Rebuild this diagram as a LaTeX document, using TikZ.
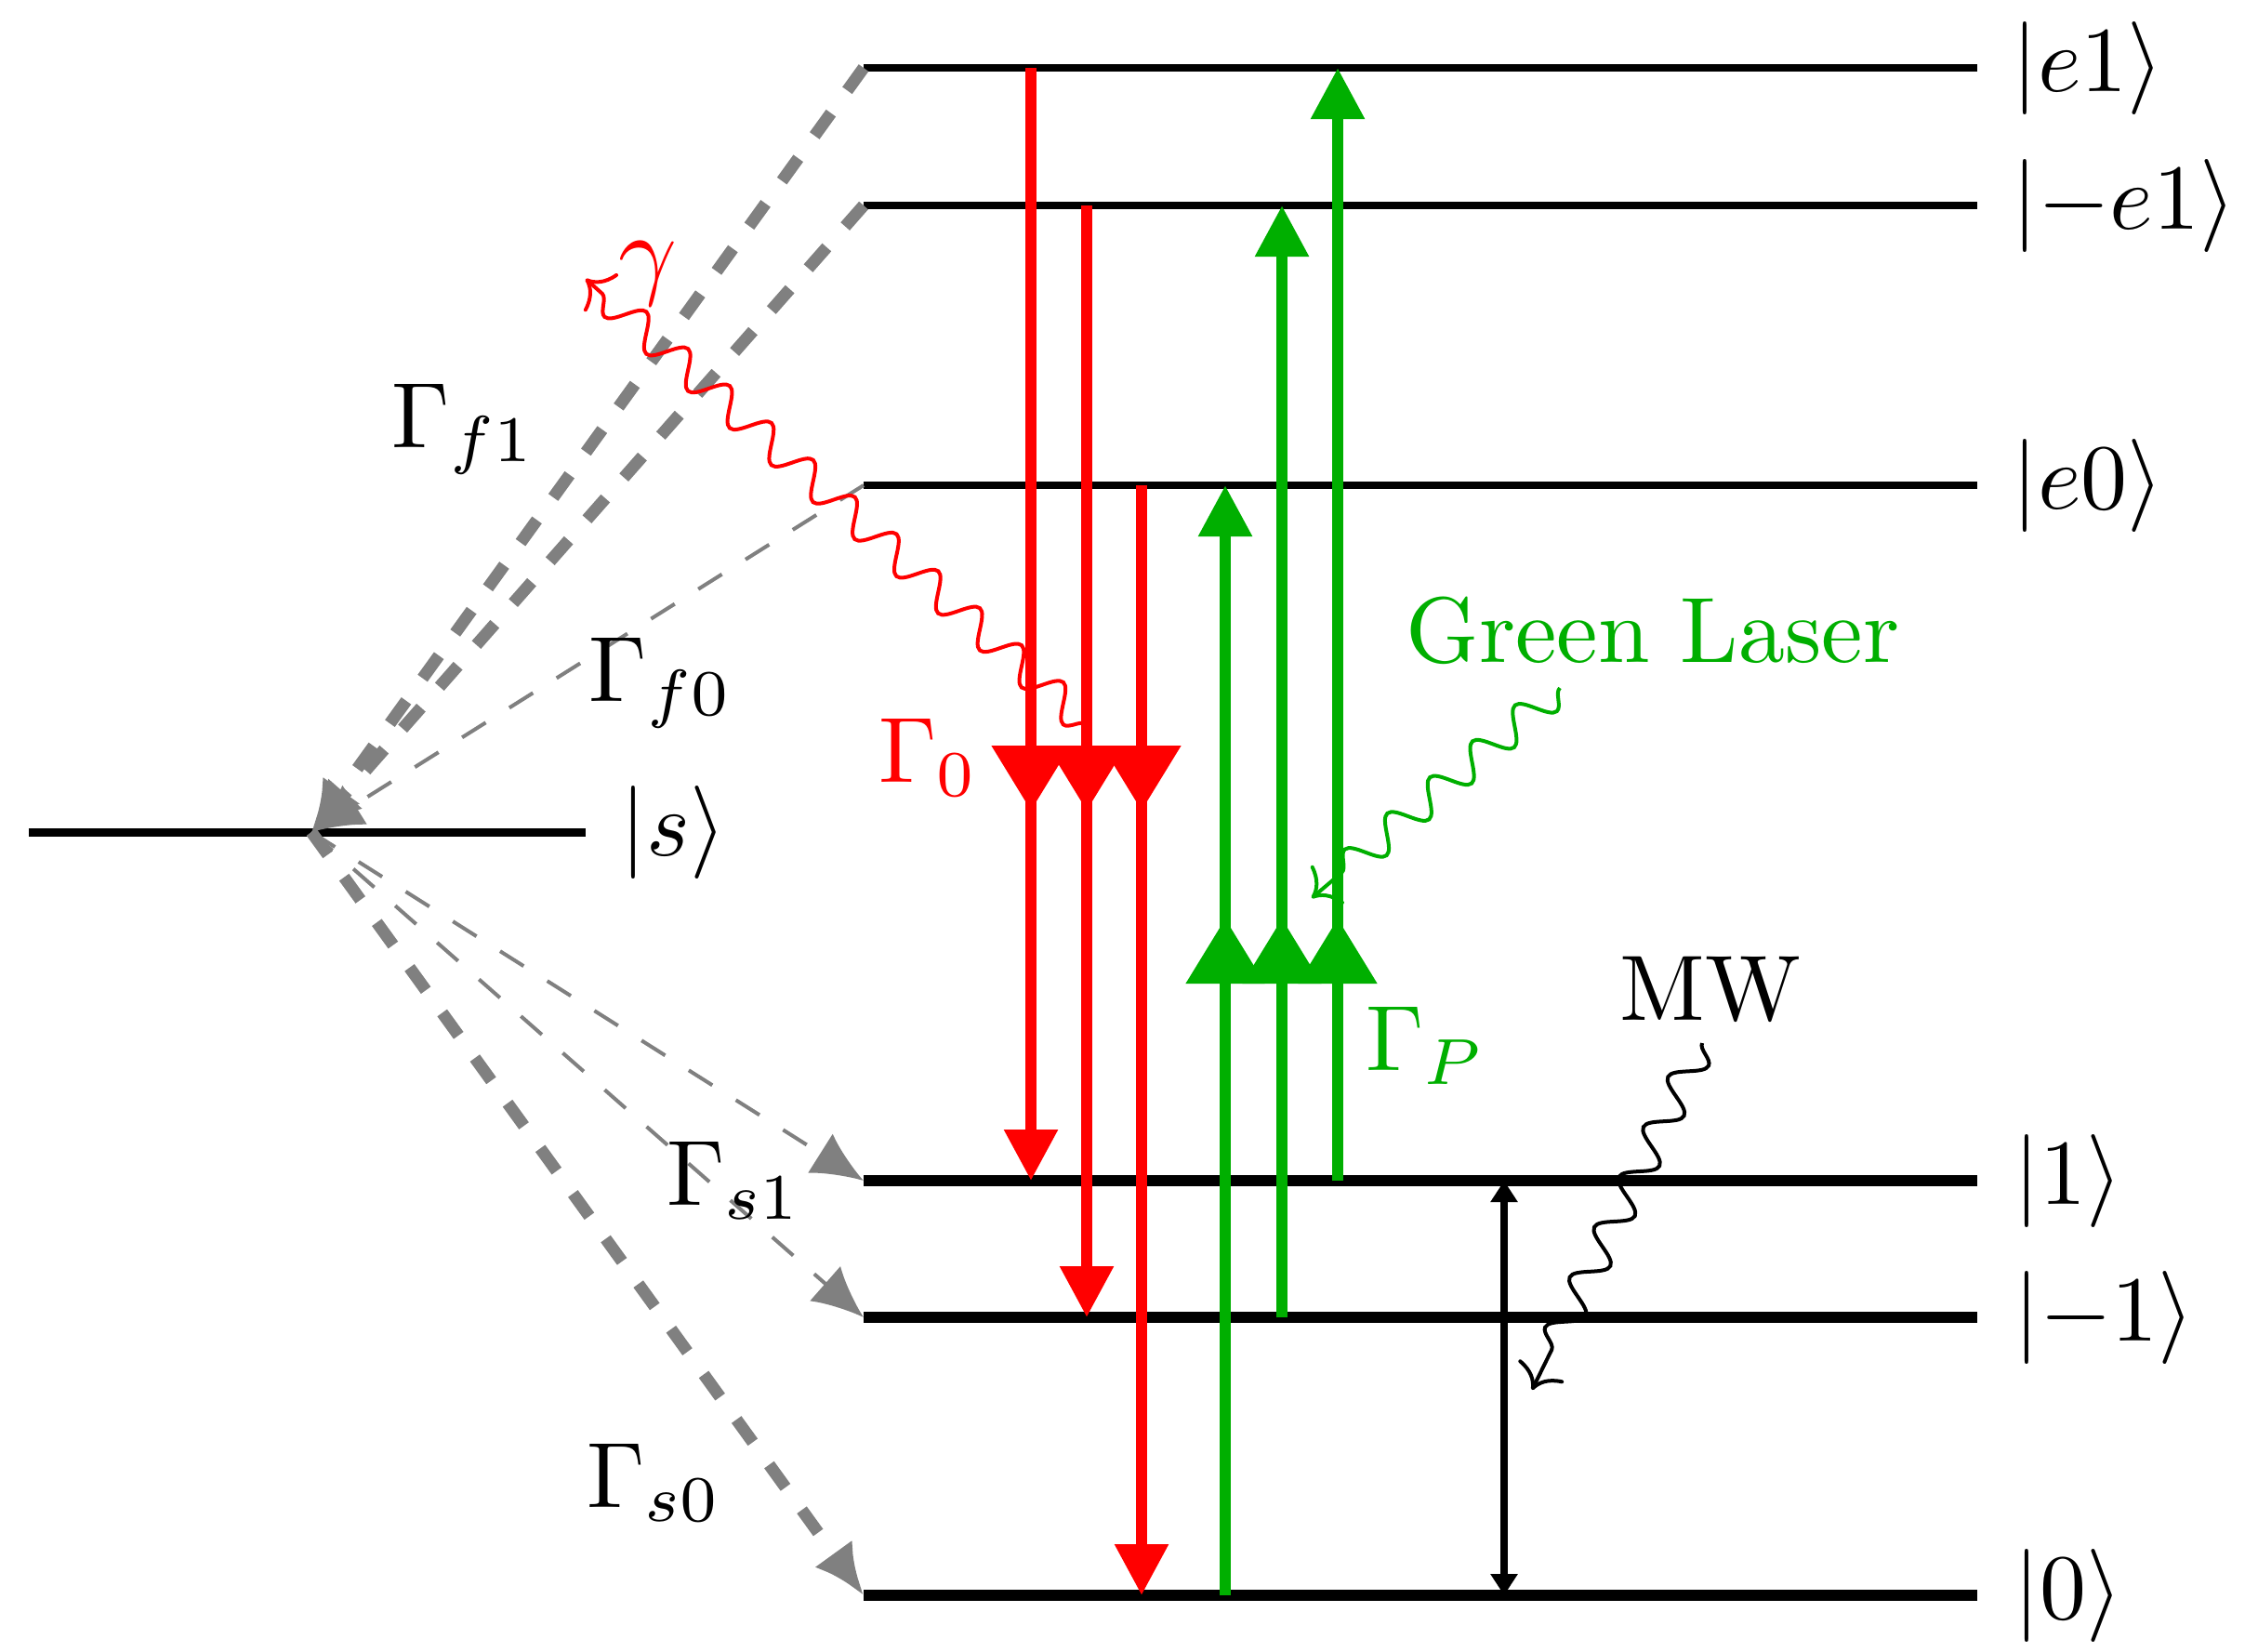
\documentclass[tikz,border=0pt]{standalone}
\usepackage{amsmath}
\usepackage{xcolor}
\definecolor{laser}{RGB}{0,175,0}
\usepackage{tikz}
\usetikzlibrary{arrows.meta,decorations.pathmorphing}
\tikzset{
  >={Triangle[length=5.5pt,width=5.5pt]},
  lvl/.style={draw=black,line width=0.8pt},
  lvlg/.style={lvl,line width=1.2pt},
  decay/.style={->,draw=red,line width=1.2pt},
  pump/.style={->,draw=laser,line width=1.2pt},
  bigtip/.style={-{Triangle[length=7pt,width=8.2pt]}},
  isc/.style={draw=gray,dashed,-{Latex[length=5.5pt,width=5pt]}},
  iscb/.style={isc,line width=1.3pt},
  photon/.style={decorate,decoration={snake,segment length=6pt,amplitude=1.7pt,post length=2pt},
    -{To[length=2.4pt,width=5.4pt]}},
  split/.style={{Triangle[length=2.3pt,width=2.8pt]}-{Triangle[length=2.3pt,width=2.8pt]},line width=0.8pt},
  ket/.style={right},
}

\begin{document}
\begin{tikzpicture}[x=10pt,y=10pt]
  \useasboundingbox (0,0) rectangle (24.29,17.76);
  % levels
  \coordinate (e1) at (9.29,17.03);
  \coordinate (me1) at (9.29,15.55);
  \coordinate (e0) at (9.29,12.54);
  \coordinate (s) at (3.35,8.81);
  \coordinate (g1) at (9.29,5.06);
  \coordinate (gm1) at (9.29,3.59);
  \coordinate (g0) at (9.29,0.60);
  \draw[lvl] (e1) -- ++(11.98,0) node[ket] (ke1) {$|e1\rangle$};
  \draw[lvl] (me1) -- ++(11.98,0) node[ket] (kme1) {$|{-}e1\rangle$};
  \draw[lvl] (e0) -- ++(11.98,0) node[ket] (ke0) {$|e0\rangle$};
  \draw[lvl,line width=0.9pt] (0.31,8.81) -- (6.30,8.81) node[ket] (ks) {$|s\rangle$};
  \draw[lvlg] (g1) -- ++(11.98,0) node[ket] (kg1) {$|1\rangle$};
  \draw[lvlg] (gm1) -- ++(11.98,0) node[ket] (kgm1) {$|{-}1\rangle$};
  \draw[lvlg] (g0) -- ++(11.98,0) node[ket] (kg0) {$|0\rangle$};
  % intersystem crossing
  \draw[iscb] (e1) -- (s);
  \draw[iscb] (me1) -- (s);
  \draw[isc] (e0) -- (s);
  \draw[isc] (s) -- (g1);
  \draw[isc] (s) -- (gm1);
  \draw[iscb] (s) -- (g0);
  % red decay and green pumping
  \coordinate (r1) at (11.09,9.04);
  \coordinate (r2) at (11.69,9.04);
  \coordinate (r3) at (12.28,9.04);
  \coordinate (p1) at (13.18,7.88);
  \coordinate (p2) at (13.79,7.88);
  \coordinate (p3) at (14.39,7.88);
  \draw[decay] (r1 |- e1) -- (r1 |- g1);
  \draw[decay,bigtip] (r1 |- e1) -- (r1);
  \draw[decay] (r2 |- me1) -- (r2 |- gm1);
  \draw[decay,bigtip] (r2 |- me1) -- (r2);
  \draw[decay] (r3 |- e0) -- (r3 |- g0);
  \draw[decay,bigtip] (r3 |- e0) -- (r3);
  \draw[pump] (p1 |- g0) -- (p1 |- e0);
  \draw[pump,bigtip] (p1 |- g0) -- (p1);
  \draw[pump] (p2 |- gm1) -- (p2 |- me1);
  \draw[pump,bigtip] (p2 |- gm1) -- (p2);
  \draw[pump] (p3 |- g1) -- (p3 |- e1);
  \draw[pump,bigtip] (p3 |- g1) -- (p3);
  % photons
  \coordinate (ph0) at (11.69,9.97);
  \coordinate (ph1) at (6.30,14.76);
  \coordinate (las0) at (16.78,10.36);
  \coordinate (las1) at (14.11,8.10);
  \coordinate (mw0) at (18.31,6.54);
  \coordinate (mw1) at (16.48,2.81);
  \draw[photon,red] (ph0) -- (ph1);
  \draw[photon,laser] (las0) -- (las1);
  \draw[photon] (mw0) -- (mw1);
  \coordinate (sp) at (16.18,0);
  \draw[split] (sp |- g1) -- (sp |- g0);
  % labels
  \node[anchor=base] (gf1) at (4.99,12.95) {$\Gamma_{f1}$};
  \node[anchor=base] (gf0) at (7.11,10.22) {$\Gamma_{f0}$};
  \node[anchor=base] (gs1) at (7.90,4.80) {$\Gamma_{s1}$};
  \node[anchor=base] (gs0) at (7.04,1.55) {$\Gamma_{s0}$};
  \node[anchor=base,red] (gr0) at (9.99,9.35) {$\Gamma_0$};
  \node[anchor=base,laser] (grp) at (15.34,6.25) {$\Gamma_P$};
  \node[anchor=base,laser] (gl) at (17.78,10.64) {Green Laser};
  \node[anchor=base] (mwl) at (18.40,6.79) {MW};
  \node[red,scale=1.1] (gam) at (6.97,14.82) {$\gamma$};
\end{tikzpicture}
\end{document}
